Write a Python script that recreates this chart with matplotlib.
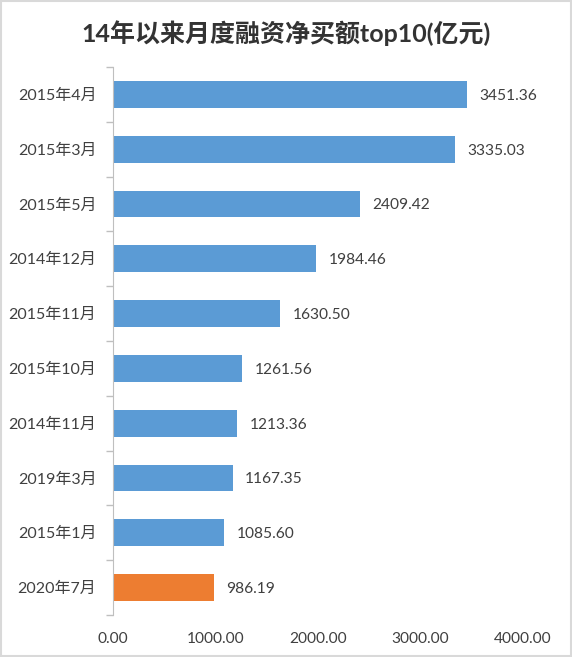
import matplotlib.pyplot as plt
from matplotlib.patches import Rectangle

plt.rcParams['font.family'] = ['Lato', 'Noto Sans CJK SC', 'DejaVu Sans']

months = ['2015年4月', '2015年3月', '2015年5月', '2014年12月', '2015年11月',
          '2015年10月', '2014年11月', '2019年3月', '2015年1月', '2020年7月']
values = [3451.36, 3335.03, 2409.42, 1984.46, 1630.50,
          1261.56, 1213.36, 1167.35, 1085.60, 986.19]
highlight = '2020年7月'
xticks = [0, 1000, 2000, 3000, 4000]

text_col = '#404040'
blue = '#5B9BD5'
orange = '#ED7D31'

fig = plt.figure(figsize=(5.72, 6.57), dpi=100)
ax = fig.add_axes([113 / 572, 1 - 615 / 657, (523 - 113) / 572, (615 - 67) / 657])

colors = [orange if m == highlight else blue for m in months]
pos = list(range(len(months)))
ax.barh(pos, values, height=0.49, color=colors)
ax.set_ylim(len(months) - 0.5, -0.5)
ax.set_xlim(0, 4000)

for p, v in zip(pos, values):
    ax.annotate(f'{v:.2f}', (v, p), xytext=(9, -1), textcoords='offset points',
                va='center', ha='left', fontsize=11.2, color=text_col)

ax.set_yticks(pos)
ax.set_yticklabels(months, fontsize=11.5, color=text_col)
ax.tick_params(axis='y', length=0, pad=12)
# category separators on the axis
ax.set_yticks([p - 0.5 for p in pos] + [len(months) - 0.5], minor=True)
ax.tick_params(axis='y', which='minor', length=5, color='#bfbfbf', width=1)

ax.set_xticks(xticks)
ax.set_xticklabels([f'{t:.2f}' for t in xticks], fontsize=11.2, color=text_col)
ax.tick_params(axis='x', length=0, pad=12)

for s in ['top', 'right', 'bottom']:
    ax.spines[s].set_visible(False)
ax.spines['left'].set_color('#bfbfbf')

fig.text(0.5, 1 - 33 / 657, '14年以来月度融资净买额top10(亿元)', ha='center', va='center',
         fontsize=18, fontweight='bold', color='#333333')

fig.patches.append(Rectangle((0.001, 0.001), 0.997, 0.997, transform=fig.transFigure,
                             fill=False, edgecolor='#d9d9d9', linewidth=1.5))

fig.savefig('out.png', dpi=100)
